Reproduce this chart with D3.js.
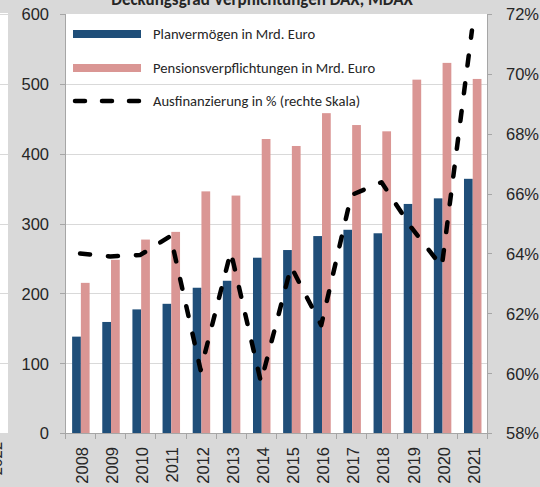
<!DOCTYPE html>
<meta charset="utf-8">
<style>
 body { margin: 0; background: #d9d9d9; }
 svg { display: block; font-family: Carlito, Calibri, "Liberation Sans", sans-serif; }
 .axis path, .axis line { stroke: #a6a6a6; shape-rendering: crispEdges; }
 .axis text { fill: #262626; font-size: 16.5px; }
</style>
<body>
<script src="https://cdn.jsdelivr.net/npm/d3@7"></script>
<script>

 var years = ["2008", "2009", "2010", "2011", "2012", "2013", "2014",
              "2015", "2016", "2017", "2018", "2019", "2020", "2021"];

 // Planvermoegen, Mrd. Euro
 var planAssets = [138, 159, 177, 185, 208, 218, 251, 262, 282, 291, 286, 328, 336, 364];
 // Pensionsverpflichtungen, Mrd. Euro
 var obligations = [215, 248, 277, 288, 346, 340, 421, 411, 458, 441, 432, 506, 530, 507];
 // Ausfinanzierung in %
 var funding = [64.0, 63.9, 63.95, 64.58, 60.1, 64.06, 59.7, 63.56, 61.6, 65.95, 66.38, 64.85, 63.56, 71.45];

 var leftTicks = [0, 100, 200, 300, 400, 500, 600];
 var rightTicks = [58, 60, 62, 64, 66, 68, 70, 72];

 var legendLabels = ["Planvermögen in Mrd. Euro",
                     "Pensionsverpflichtungen in Mrd. Euro",
                     "Ausfinanzierung in % (rechte Skala)"];

 var width = 540, height = 487;
 var plot = {left: 65, right: 487, top: 14, bottom: 433};

 var blue = "#1f4e79", pink = "#da9694";

 var svg = d3.select("body").append("svg")
             .attr("width", width)
             .attr("height", height);

 svg.append("rect").attr("width", width).attr("height", height).attr("fill", "#d9d9d9");

 var x = d3.scaleBand().domain(years).range([plot.left, plot.right]).padding(0);
 var y = d3.scaleLinear().domain([0, 600]).range([plot.bottom, plot.top]);
 var yR = d3.scaleLinear().domain([58, 72]).range([plot.bottom, plot.top]);

 // neighbouring chart cut off on the left
 svg.append("rect").attr("x", 0).attr("y", plot.top - 1).attr("width", 8)
    .attr("height", plot.bottom - plot.top + 1).attr("fill", "#fff");
 svg.append("g").selectAll("line").data(leftTicks.slice(1)).join("line")
    .attr("x1", 0).attr("x2", 8)
    .attr("y1", d => Math.round(y(d)) + 0.5).attr("y2", d => Math.round(y(d)) + 0.5)
    .attr("stroke", "#d9d9d9");
 svg.append("text")
    .attr("transform", "translate(2," + 442 + ") rotate(-90)")
    .attr("text-anchor", "end")
    .attr("font-size", 16.5)
    .attr("fill", "#262626")
    .text("2022");

 // plot area
 svg.append("rect")
    .attr("x", plot.left).attr("y", plot.top)
    .attr("width", plot.right - plot.left).attr("height", plot.bottom - plot.top)
    .attr("fill", "#fff");

 // gridlines
 svg.append("g").selectAll("line").data(leftTicks.slice(1, -1)).join("line")
    .attr("x1", plot.left).attr("x2", plot.right)
    .attr("y1", d => Math.round(y(d)) + 0.5).attr("y2", d => Math.round(y(d)) + 0.5)
    .attr("stroke", "#d9d9d9");

 // title, mostly cut off at the top
 svg.append("text")
    .attr("x", 262).attr("y", 5)
    .attr("text-anchor", "middle")
    .attr("font-size", 17)
    .attr("font-weight", "bold")
    .attr("fill", "#262626")
    .text("Deckungsgrad Verpflichtungen DAX, MDAX");

 var bw = x.bandwidth() * 0.29;

 svg.append("g").selectAll("rect").data(years).join("rect")
    .attr("x", (d) => x(d) + x.bandwidth() / 2 + 0.8 - bw)
    .attr("y", (d, i) => y(planAssets[i]))
    .attr("width", bw)
    .attr("height", (d, i) => y(0) - y(planAssets[i]))
    .attr("fill", blue);

 svg.append("g").selectAll("rect").data(years).join("rect")
    .attr("x", (d) => x(d) + x.bandwidth() / 2 + 0.8)
    .attr("y", (d, i) => y(obligations[i]))
    .attr("width", bw)
    .attr("height", (d, i) => y(0) - y(obligations[i]))
    .attr("fill", pink);

 var line = d3.line()
              .x((d, i) => x(years[i]) + x.bandwidth() / 2)
              .y(d => yR(d));

 svg.append("path")
    .datum(funding)
    .attr("fill", "none")
    .attr("stroke", "#000")
    .attr("stroke-width", 4.5)
    .attr("stroke-linecap", "round")
    .attr("stroke-linejoin", "round")
    .attr("stroke-dasharray", "10,18")
    .attr("d", line);

 // axes
 var gL = svg.append("g").attr("class", "axis")
             .attr("transform", "translate(" + plot.left + ",0)")
             .call(d3.axisLeft(y).tickValues(leftTicks).tickSize(5).tickSizeOuter(5).tickPadding(11));
 gL.selectAll("text").attr("dy", "0.36em");

 var gR = svg.append("g").attr("class", "axis")
             .attr("transform", "translate(" + plot.right + ",0)")
             .call(d3.axisRight(yR).tickValues(rightTicks).tickSize(5).tickSizeOuter(5).tickPadding(14)
                     .tickFormat(d => d + "%"));
 gR.selectAll("text").attr("dy", "0.36em");

 var gX = svg.append("g").attr("class", "axis")
             .attr("transform", "translate(0," + plot.bottom + ")")
             .call(d3.axisBottom(x).tickSize(0).tickSizeOuter(0));
 gX.selectAll("text")
   .attr("transform", "rotate(-90)")
   .attr("text-anchor", "end")
   .attr("x", -14)
   .attr("y", 2)
   .attr("dy", "0.36em");
 // category boundary ticks
 gX.append("g").selectAll("line").data(years.concat(["end"])).join("line")
   .attr("x1", (d, i) => Math.round(plot.left + i * x.bandwidth()) + 0.5)
   .attr("x2", (d, i) => Math.round(plot.left + i * x.bandwidth()) + 0.5)
   .attr("y1", 0).attr("y2", 6);

 // legend
 var lg = svg.append("g").attr("transform", "translate(73,0)");
 var rowY = [34, 68, 101];
 lg.append("rect").attr("x", 0).attr("y", rowY[0] - 4).attr("width", 68).attr("height", 8).attr("fill", blue);
 lg.append("rect").attr("x", 0).attr("y", rowY[1] - 4).attr("width", 68).attr("height", 8).attr("fill", pink);
 lg.append("line").attr("x1", 2).attr("x2", 68).attr("y1", rowY[2]).attr("y2", rowY[2])
   .attr("stroke", "#000").attr("stroke-width", 4.5).attr("stroke-linecap", "round")
   .attr("stroke-dasharray", "10,17");
 lg.selectAll("text").data(legendLabels).join("text")
   .attr("x", 80)
   .attr("y", (d, i) => rowY[i])
   .attr("dy", "0.35em")
   .attr("font-size", 14.6)
   .attr("fill", "#262626")
   .text(d => d);

</script>
